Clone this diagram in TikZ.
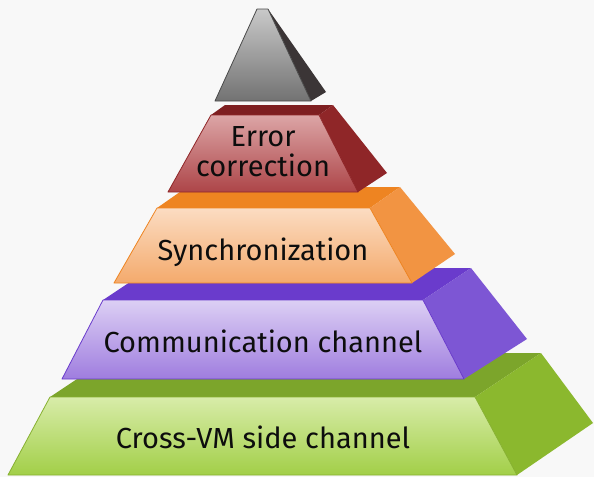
\documentclass[tikz,border=0pt]{standalone}
\usepackage{fontspec}
\setmainfont{Fira Sans}
\definecolor{bgc}{HTML}{F8F8F8}
\definecolor{gyFrontT}{HTML}{C9C9C9}
\definecolor{gyFrontB}{HTML}{727272}
\definecolor{gySide}{HTML}{3B3536}
\definecolor{gyEdge}{HTML}{4A4A4A}
\definecolor{rdTop}{HTML}{7E1F21}
\definecolor{rdSide}{HTML}{8F2628}
\definecolor{rdFrontT}{HTML}{DCA5A6}
\definecolor{rdFrontB}{HTML}{AD4548}
\definecolor{orTop}{HTML}{EE8421}
\definecolor{orSide}{HTML}{F29442}
\definecolor{orFrontT}{HTML}{FBDCC2}
\definecolor{orFrontB}{HTML}{F4AA6C}
\definecolor{puTop}{HTML}{6A3BCC}
\definecolor{puSide}{HTML}{7D56D4}
\definecolor{puFrontT}{HTML}{DCCFF4}
\definecolor{puFrontB}{HTML}{9F7DDF}
\definecolor{grTop}{HTML}{7CA52B}
\definecolor{grSide}{HTML}{8BB82E}
\definecolor{grFrontT}{HTML}{D8ECA9}
\definecolor{grFrontB}{HTML}{A2CF48}
\definecolor{grEdge}{HTML}{86B030}
\begin{document}
\begin{tikzpicture}[x=1pt,y=-1pt,
  lbl/.style={font=\fontsize{29}{30}\selectfont, text=black!95, inner sep=0pt, align=center},
  face/.style={line width=0.8pt, line join=round}]
\fill[bgc] (0,0) rectangle (594,477);
\useasboundingbox (0,0) rectangle (594,477);

% ---- green layer
\fill[grTop] (50,397) -- (116,353) -- (541,353) -- (475,397) -- cycle;
\fill[grSide] (475,397) -- (541,353) -- (593,423) -- (517,475) -- cycle;
\shade[face, top color=grFrontT, bottom color=grFrontB, draw=grEdge] (50,397) -- (475,397) -- (517,475) -- (8,475) -- cycle;

% ---- purple layer
\fill[puTop] (103,300) -- (151,268) -- (471,268) -- (423,300) -- cycle;
\fill[puSide] (423,300) -- (471,268) -- (527,339) -- (464,379) -- cycle;
\shade[face, top color=puFrontT, bottom color=puFrontB, draw=puTop] (103,300) -- (423,300) -- (464,379) -- (62,379) -- cycle;

% ---- orange layer
\fill[orTop] (157,208) -- (187,187) -- (400,187) -- (370,208) -- cycle;
\fill[orSide] (370,208) -- (400,187) -- (455,254) -- (412,283) -- cycle;
\shade[face, top color=orFrontT, bottom color=orFrontB, draw=orTop] (157,208) -- (370,208) -- (412,283) -- (114,283) -- cycle;

% ---- red layer
\fill[rdTop] (211,115) -- (225,105) -- (333,105) -- (319,115) -- cycle;
\fill[rdSide] (319,115) -- (333,105) -- (387,173) -- (358,192) -- cycle;
\shade[face, top color=rdFrontT, bottom color=rdFrontB, draw=rdSide] (211,115) -- (319,115) -- (358,192) -- (168,192) -- cycle;

% ---- gray apex
\fill[gySide] (268,9) -- (326,92) -- (311,101) -- cycle;
\shade[face, top color=gyFrontT, bottom color=gyFrontB, draw=gyEdge] (257,9) -- (268,9) -- (311,101) -- (215,101) -- cycle;

% ---- labels
\node[lbl, anchor=center] (err) at (263,152) {Error\\correction};
\node[lbl, anchor=base] (sync) at (263,260) {Synchronization};
\node[lbl, anchor=base] (comm) at (263,352) {Communication channel};
\node[lbl, anchor=base] (cvm) at (263,448) {Cross-VM side channel};
\end{tikzpicture}
\end{document}
